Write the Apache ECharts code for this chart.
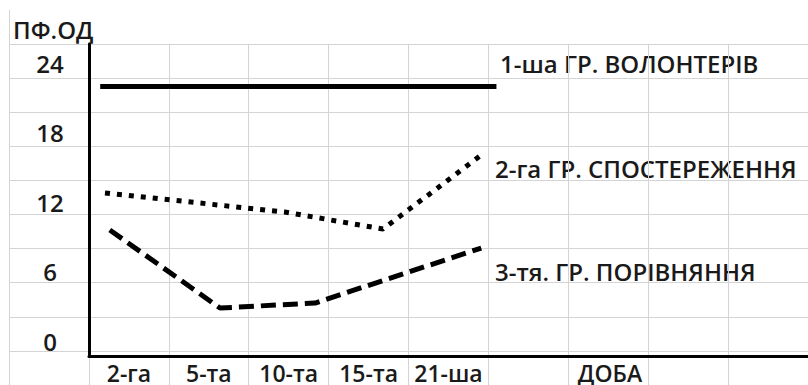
<!DOCTYPE html>
<html>
<head>
<meta charset="utf-8">
<script src="https://cdn.jsdelivr.net/npm/echarts@6/dist/echarts.min.js"></script>
<style>
html,body{margin:0;padding:0;background:#fff;}
#main{width:808px;height:385px;}
</style>
</head>
<body>
<div id="main"></div>
<script>
// ---- data ----
const categories = ['2-га', '5-та', '10-та', '15-та', '21-ша', '', '', '', ''];
const xAxisName = 'ДОБА';
const yAxisName = 'ПФ.ОД';
const seriesNames = ['1-ша ГР. ВОЛОНТЕРІВ', '2-га ГР. СПОСТЕРЕЖЕННЯ', '3-тя. ГР. ПОРІВНЯННЯ'];
// x in column units from the vertical axis, y in ПФ.ОД
const group1 = [[0.14, 23.3], [5.1, 23.3]];
const group2 = [[0.2, 14.1], [2.45, 12.45], [3.68, 10.98], [4.91, 17.38]];
const group3 = [[0.26, 10.9], [1.64, 4.15], [2.83, 4.58], [4.91, 9.34]];
const yMin = 0, yMax = 27, yStep = 6;

const FONT = '"Open Sans", "Noto Sans", sans-serif';
const FS = 24;
const FS_X = 23;
const FW = 600;
const TXT = '#1a1a1a';
const GRID_LINE = '#d4d4d4';
const TFONT = FW + ' ' + FS + 'px ' + FONT;

const chart = echarts.init(document.getElementById('main'), null, {renderer: 'svg'});

const option = {
  backgroundColor: '#fff',
  animation: false,
  textStyle: {fontFamily: FONT},
  grid: [
    // spreadsheet cells
    {left: 9, top: 43.8, width: 800, height: 346.9},
    // chart area
    {left: 89, top: 43.8, width: 720, height: 312.2},
    // top-left header cell border
    {left: 9, top: 10, width: 1, height: 34}
  ],
  xAxis: [
    {gridIndex: 0, type: 'value', min: 0, max: 10, interval: 1,
      axisLine: {show: false}, axisTick: {show: false}, axisLabel: {show: false},
      splitLine: {show: true, lineStyle: {color: GRID_LINE, width: 1}}},
    {gridIndex: 1, type: 'category', data: categories, boundaryGap: true,
      axisLine: {show: true, lineStyle: {color: '#000', width: 3}},
      axisTick: {show: false},
      axisLabel: {show: true, margin: 10, lineHeight: 14, color: TXT, fontSize: FS_X, fontWeight: FW, fontFamily: FONT, interval: 0},
      splitLine: {show: false},
      name: xAxisName, nameLocation: 'end', nameGap: -198,
      nameTextStyle: {color: TXT, fontSize: FS_X, fontWeight: FW, fontFamily: FONT, align: 'center', verticalAlign: 'top',
        lineHeight: 14, padding: [10, 0, 0, 0]}},
    {gridIndex: 1, type: 'value', min: 0, max: 9, show: false},
    {gridIndex: 2, type: 'value', min: 0, max: 1, show: false}
  ],
  yAxis: [
    {gridIndex: 0, type: 'value', min: 0, max: 10, interval: 1,
      axisLine: {show: false}, axisTick: {show: false}, axisLabel: {show: false},
      splitLine: {show: true, lineStyle: {color: GRID_LINE, width: 1}}},
    {gridIndex: 1, type: 'value', min: yMin, max: yMax, interval: yStep,
      axisLine: {show: true, lineStyle: {color: '#000', width: 3}},
      axisTick: {show: false},
      splitLine: {show: false},
      axisLabel: {show: true, showMaxLabel: false, margin: 39, align: 'center', verticalAlign: 'bottom',
        lineHeight: 30, color: TXT, fontSize: FS, fontWeight: FW, fontFamily: FONT}},
    {gridIndex: 2, type: 'value', min: 0, max: 1,
      axisLine: {show: true, lineStyle: {color: GRID_LINE, width: 1}},
      axisTick: {show: false}, axisLabel: {show: false}, splitLine: {show: false}}
  ],
  series: [
    {name: seriesNames[0], type: 'line', xAxisIndex: 2, yAxisIndex: 1, data: group1,
      symbol: 'none', lineStyle: {color: '#000', width: 5, type: 'solid', cap: 'butt'}},
    {name: seriesNames[1], type: 'line', xAxisIndex: 2, yAxisIndex: 1, data: group2,
      symbol: 'none', lineStyle: {color: '#000', width: 5, type: [5, 7], cap: 'butt'}},
    {name: seriesNames[2], type: 'line', xAxisIndex: 2, yAxisIndex: 1, data: group3,
      symbol: 'none', lineStyle: {color: '#000', width: 5, type: [15, 7], cap: 'butt'}}
  ],
  graphic: [
    {type: 'text', x: 13, y: 29, style: {text: yAxisName, fill: TXT, font: TFONT, verticalAlign: 'middle'}},
    {type: 'text', x: 500, y: 63, style: {text: seriesNames[0], fill: TXT, font: TFONT, verticalAlign: 'middle'}},
    {type: 'text', x: 495, y: 168, style: {text: seriesNames[1], fill: TXT, font: TFONT, verticalAlign: 'middle'}},
    {type: 'text', x: 495, y: 271, style: {text: seriesNames[2], fill: TXT, font: TFONT, verticalAlign: 'middle'}}
  ]
};
chart.setOption(option);
</script>
</body>
</html>
